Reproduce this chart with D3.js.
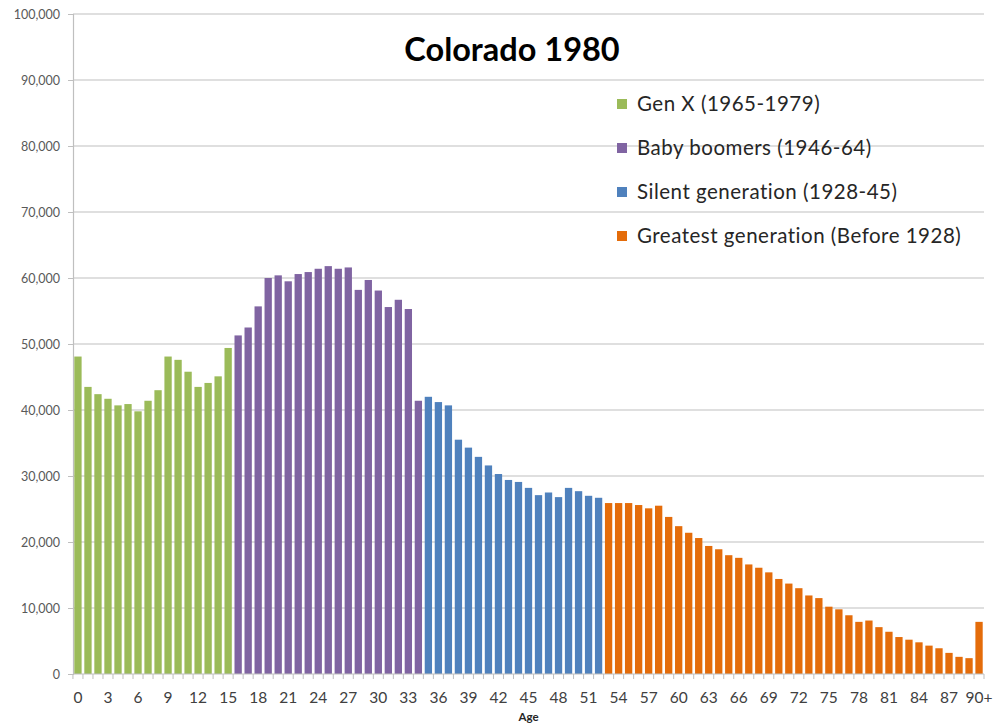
<!DOCTYPE html>
<html><head><meta charset="utf-8">
<script src="https://cdn.jsdelivr.net/npm/d3@7"></script>
<style>body{margin:0;background:#fff;} text{font-family:Lato,"Open Sans",sans-serif;}</style>
</head><body><svg id="c" width="997" height="726"></svg>
<script>
const ages = d3.range(0, 90).map(String).concat(["90+"]);
const population = [
48100,43500,42400,41700,40700,40900,39800,41400,43000,48100,
47600,45800,43500,44100,45100,49400,51300,52500,55700,60000,
60400,59500,60600,60900,61400,61800,61400,61600,58200,59700,
58100,55600,56700,55300,41400,42000,41200,40700,35500,34300,
32900,31600,30300,29400,29100,28200,27100,27500,26800,28200,
27700,27000,26700,25900,25900,25900,25600,25100,25500,23800,
22400,21400,20600,19400,18900,18000,17600,16600,16100,15400,
14400,13700,13000,11900,11500,10200,9800,8900,7900,8100,
7100,6400,5600,5200,4800,4300,3900,3200,2600,2400,7900];
const generations = ["Gen X (1965-1979)","Baby boomers (1946-64)","Silent generation (1928-45)","Greatest generation (Before 1928)"];
const genColors = ["#9BBB59","#8064A2","#4F81BD","#E46C0A"];
const genStartAge = [0,16,35,53];
const yTicks = d3.range(0, 100001, 10000);

const svg = d3.select("#c");
const m = {l:73, r:984, t:14, b:674};
const x = d3.scaleBand().domain(ages).range([m.l, m.r]).paddingInner(0.27).paddingOuter(0.13);
const y = d3.scaleLinear().domain([0,100000]).range([m.b, m.t]);
const genOf = i => { let g=0; genStartAge.forEach((s,k)=>{ if(i>=s) g=k; }); return g; };

// gridlines
svg.append("g").selectAll("line").data(yTicks.slice(1)).join("line")
  .attr("x1", m.l).attr("x2", m.r).attr("y1", d=>y(d)).attr("y2", d=>y(d))
  .attr("stroke","#BFBFBF").attr("stroke-width",1.2);

// y axis
const ya = svg.append("g").attr("transform",`translate(${m.l},0)`)
  .call(d3.axisLeft(y).tickValues(yTicks).tickFormat(d3.format(",")).tickSize(5).tickPadding(8));
ya.select(".domain").attr("stroke","#BFBFBF").attr("stroke-width",1.2);
ya.selectAll(".tick line").attr("stroke","#BFBFBF");
ya.selectAll("text").attr("fill","#595959").style("font-size","12.5px").style("font-family","Lato,sans-serif");

// bars
svg.append("g").selectAll("rect").data(population).join("rect")
  .attr("x",(d,i)=>x(ages[i])).attr("width",x.bandwidth())
  .attr("y",d=>y(d)).attr("height",d=>y(0)-y(d))
  .attr("fill",(d,i)=>genColors[genOf(i)]);

// x axis
const step = x.step();
const xa = svg.append("g").attr("transform",`translate(0,${m.b})`);
xa.append("line").attr("x1",m.l).attr("x2",m.r).attr("stroke","#BFBFBF").attr("stroke-width",1.2);
xa.selectAll("line.tk").data(ages).join("line").attr("class","tk")
  .attr("x1",d=>x(d)-step*0.135).attr("x2",d=>x(d)-step*0.135).attr("y1",0).attr("y2",5)
  .attr("stroke","#BFBFBF");
xa.append("line").attr("x1",m.r).attr("x2",m.r).attr("y1",0).attr("y2",5).attr("stroke","#BFBFBF");
xa.selectAll("text").data(ages.filter((d,i)=>i%3===0)).join("text")
  .attr("x",d=>x(d)+x.bandwidth()/2).attr("y",29).attr("text-anchor","middle")
  .attr("fill","#404040").style("font-size","15.5px").text(d=>d);
svg.append("text").attr("x",(m.l+m.r)/2).attr("y",721).attr("text-anchor","middle")
  .style("font-size","11.5px").style("font-weight","bold").attr("fill","#262626").text("Age");

// title
svg.append("text").attr("x",512).attr("y",61).attr("text-anchor","middle")
  .style("font-size","32.5px").style("font-weight","bold").attr("fill","#000").text("Colorado 1980");

// legend
const lg = svg.append("g").selectAll("g").data(generations).join("g")
  .attr("transform",(d,i)=>`translate(617,${104+i*44})`);
lg.append("rect").attr("x",0).attr("y",-5).attr("width",10).attr("height",10).attr("fill",(d,i)=>genColors[i]);
lg.append("text").attr("x",20).attr("y",7).style("font-size","20.5px").style("letter-spacing","0.5px")
  .attr("fill","#262626").text(d=>d);
</script></body></html>
